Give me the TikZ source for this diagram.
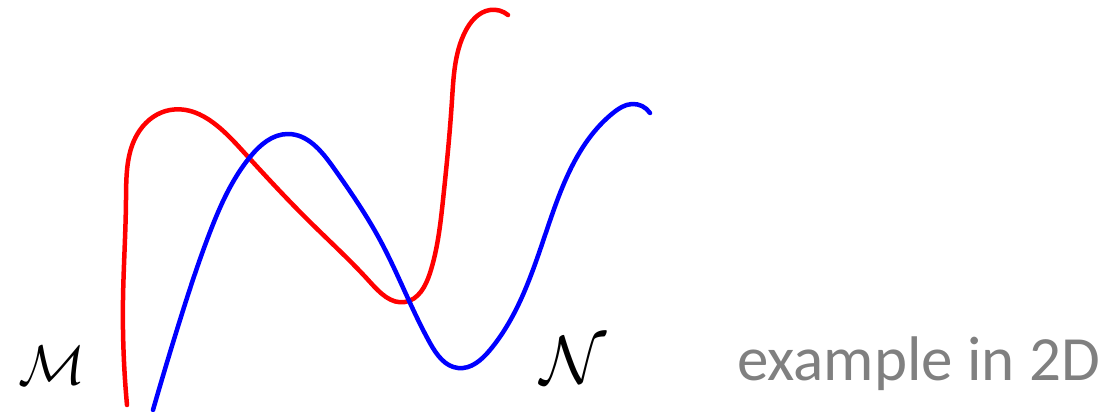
\documentclass[tikz,border=0pt]{standalone}
\usepackage{fontspec}
\usepackage{graphicx}
\usetikzlibrary{hobby}
\newfontfamily\carlito{Carlito}
\begin{document}
\begin{tikzpicture}[x=1pt,y=-1pt,
  curve/.style={line width=4.5pt, line cap=round, line join=round, use Hobby shortcut},
  lbl/.style={inner sep=0pt, anchor=south west},
  caption/.style={inner sep=0pt, anchor=base west, font=\carlito\fontsize{63}{65}\selectfont}]
\useasboundingbox (0,0) rectangle (1108,412);
\definecolor{capgray}{RGB}{128,128,128}
\draw[curve, red] (127,405) .. (123,300) .. (126,200) .. (140,130) .. (170,110) .. (240,148) .. (310,222) .. (370,282) .. (405,302) .. (430,273) .. (443,200) .. (452,100) .. (465,32) .. (490,10) .. (508,15);
\draw[curve, blue] (153,410) .. (180,320) .. (210,232) .. (250,157) .. (288,134) .. (333,167) .. (380,240) .. (430,343) .. (458,368) .. (490,350) .. (553,212) .. (613,113) .. (632,104) .. (650,113);
\node[lbl] (M) at (18,385) {\resizebox{67pt}{!}{$\mathcal{M}$}};
\node[lbl] (N) at (540,384) {\resizebox{66pt}{!}{$\mathcal{N}$}};
\node[caption, text=capgray] (cap) at (737,380) {example in 2D};
\end{tikzpicture}
\end{document}
